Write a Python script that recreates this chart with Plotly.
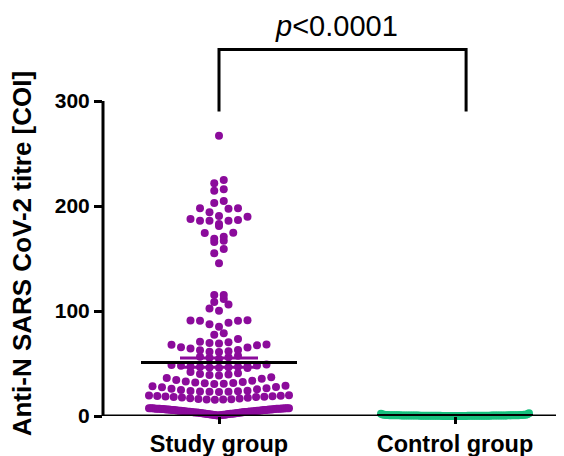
import plotly.graph_objects as go

# ---------------- data ----------------
categories = ["Study group", "Control group"]

study_values = [
    267, 224.8, 221.6, 215.9, 214.6, 204.8, 202.9, 197.8, 197.8, 197.5, 194,
    190.5, 189.8, 187.6, 186.7, 186, 186, 186, 182.9, 181, 174.6, 174.4,
    170.8, 168.9, 167, 165.7, 159, 155, 145.4,
    115.2, 115.2, 111.4, 108.6, 106.3, 102.5, 100.3,
    91.1, 90.9, 90.8, 90.6, 88.9, 87.3, 85.0,
    78.7, 77.4, 73.3, 70.8, 70.2, 69.5, 69.0,
    68.2, 67.8, 67.3, 65.4, 65.2, 64.4, 62.9, 62.7, 61.6, 61.2, 61.0,
    57.5, 56.5, 56.0, 55.5, 54.5,
    49.0, 48.6, 48.2, 47.9, 47.5, 47.1, 46.8, 46.6, 46.4, 46.1, 45.9, 45.7,
    42.0, 40.8, 40.0, 39.5, 39.0, 38.5,
    37.0, 36.2, 35.4, 34.3, 33.5, 32.8, 32.4, 31.9, 31.5, 31.1, 30.8, 30.5,
    28.9, 28.3, 27.6, 27.3, 26.4, 25.9, 25.4, 24.8, 24.1, 23.9, 23.5, 23.3,
    23.1, 23.0, 22.9,
    19.8, 19.5, 19.2, 19.0, 18.8, 18.6, 18.4, 18.2, 18.0, 17.6, 17.3, 17.0,
    16.6, 16.3, 16.0, 15.8, 15.6, 15.4,
    0.4, 0.6, 0.7, 0.9, 1.0, 1.2, 1.3, 1.3, 1.5, 1.7, 1.8, 1.9, 2.1, 2.2,
    2.2, 2.4, 2.6, 2.7, 2.8, 2.9, 3.0, 3.2, 3.3, 3.3, 3.5, 3.6, 3.7, 3.9,
    4.0, 4.1, 4.1, 4.3, 4.4, 4.5, 4.6, 4.8, 4.9, 5.0, 5.0, 5.1, 5.3, 5.4,
    5.5, 5.6, 5.6, 5.8, 5.9, 6.0, 6.1, 6.2, 6.3, 6.3, 6.4, 6.5, 6.6, 6.7,
    6.8, 6.8, 6.9, 7.0, 7.1, 7.1, 7.2, 7.3, 7.3, 7.4, 7.4, 7.5, 7.5, 3.4,
    2.5, 4.7, 5.2, 6.9, 1.6, 3.8, 4.2, 5.7, 6.6, 7.0,
]

control_values = [
    0.1, 0.3, 0.2, 0.6, 0.4, 0.1, 0.9, 0.5, 0.7, 0.3, 0.1, 0.2, 1.1, 0.4,
    0.6, 0.1, 0.3, 0.5, 0.8, 0.2, 0.4, 0.1, 0.7, 1.0, 0.3, 0.2, 0.5, 0.4,
    0.1, 0.6, 1.3, 0.2, 0.3, 0.4, 0.1, 0.5, 0.8, 0.1, 0.3, 0.7, 0.2, 0.4,
    1.6, 0.3, 0.1, 0.5, 0.6, 0.2, 0.4, 0.9, 0.3, 0.1, 0.2, 0.5, 2.2, 0.4,
    0.1, 0.7, 0.3, 0.6, 0.2, 1.2, 0.4, 0.1, 0.3, 0.5, 0.2, 2.6, 0.4, 0.8,
    0.3, 0.1, 0.6, 0.2, 0.4, 1.0, 0.3, 0.5, 0.1, 0.2, 0.7, 0.4, 0.3, 1.4,
    0.2, 0.1, 0.5, 0.3,
]

y_tick_values = [0, 100, 200, 300]
p_text = "<i>p</i>&lt;0.0001"
y_title = "Anti-N SARS CoV-2 titre [COI]"

# ---------------- style ----------------
PURPLE = "#8B0B9B"
GREEN = "#17C07E"
FONT = "Arial, Liberation Sans, sans-serif"

PAGE_OFFSET = 8            # default body margin of the html page
W, H = 564 - PAGE_OFFSET, 456 - PAGE_OFFSET
ML, MR, MT, MB = 103 - PAGE_OFFSET, 4, 10 - PAGE_OFFSET, 40
PX_PER_X = 236.0           # pixels between the two category centres
PX_PER_Y = 1.05            # pixels per titre unit
x_lo = -116 / PX_PER_X
x_hi = x_lo + (W - ML - MR) / PX_PER_X
y_hi = (H - MT - MB) / PX_PER_Y


def swarm(values, center, row_h, step, maxhalf):
    """Prism-like scatter: values binned into rows, spread horizontally."""
    rows = {}
    for v in sorted(values):
        rows.setdefault(int(v // row_h), []).append(v)
    xs, ys = [], []
    for key in sorted(rows):
        row = rows[key]
        n = len(row)
        s = step if n <= 1 else min(step, 2 * maxhalf / (n - 1))
        slots = sorted(range(n), key=lambda k: (abs(k - (n - 1) / 2), k))
        for v, k in zip(row, slots):
            xs.append(center + (k - (n - 1) / 2) * s)
            ys.append(v)
    return xs, ys


def mean_sem(vals):
    n = len(vals)
    m = sum(vals) / n
    sd = (sum((v - m) ** 2 for v in vals) / (n - 1)) ** 0.5
    return m, sd / n ** 0.5


row_h = 8 / PX_PER_Y
step = 9.5 / PX_PER_X
sx, sy = swarm(study_values, 0, row_h, step, 70 / PX_PER_X)
cx, cy = swarm(control_values, 1, row_h, step, 74 / PX_PER_X)

fig = go.Figure()
fig.add_trace(go.Scatter(x=sx, y=sy, mode="markers", cliponaxis=False,
                         marker=dict(size=8, color=PURPLE, line=dict(width=0)),
                         showlegend=False, hoverinfo="y"))
fig.add_trace(go.Scatter(x=cx, y=cy, mode="markers", cliponaxis=False,
                         marker=dict(size=8, color=GREEN, line=dict(width=0)),
                         showlegend=False, hoverinfo="y"))

mean_half = 78 / PX_PER_X
cap_half = 39 / PX_PER_X
for idx, (vals, col) in enumerate([(study_values, PURPLE), (control_values, GREEN)]):
    m, se = mean_sem(vals)
    fig.add_trace(go.Scatter(
        x=[idx - cap_half, idx + cap_half, None, idx, idx, None, idx - cap_half, idx + cap_half],
        y=[m + se, m + se, None, m + se, m - se, None, m - se, m - se],
        mode="lines", line=dict(color=col, width=3), showlegend=False,
        hoverinfo="skip", cliponaxis=False))
    fig.add_trace(go.Scatter(x=[idx - mean_half, idx + mean_half], y=[m, m],
                             mode="lines", line=dict(color="black", width=3),
                             showlegend=False, hoverinfo="skip", cliponaxis=False))

# axis spines: y only up to 300, x centred on y = 0
fig.add_shape(type="line", xref="paper", x0=0, x1=0, yref="y",
              y0=0, y1=y_tick_values[-1], line=dict(color="black", width=3))
fig.add_shape(type="line", xref="paper", x0=0, x1=1, yref="y",
              y0=0, y1=0, line=dict(color="black", width=3))

# significance bracket
br_left, br_right = 0, 1.047
br_low, br_top = 290, 349
fig.add_shape(type="path", xref="x", yref="y",
              path=f"M {br_left} {br_low} L {br_left} {br_top} L {br_right} {br_top} L {br_right} {br_low}",
              line=dict(color="black", width=3))
fig.add_annotation(x=0.498, y=371, xref="x", yref="y", text=p_text,
                   showarrow=False, xanchor="center", yanchor="middle",
                   font=dict(family=FONT, size=29, color="black"))

# y-axis title centred on the 0-300 spine
fig.add_annotation(xref="paper", x=0, xshift=-81, yref="y", y=154,
                   xanchor="center", yanchor="middle",
                   text=y_title, textangle=-90, showarrow=False,
                   font=dict(family=FONT, size=26, color="black", weight="bold"))

fig.update_layout(
    width=W, height=H,
    margin=dict(l=ML, r=MR, t=MT, b=MB, autoexpand=False),
    paper_bgcolor="white", plot_bgcolor="white",
    font=dict(family=FONT, color="black"),
    showlegend=False,
)
fig.update_xaxes(range=[x_lo, x_hi], tickvals=[0, 1], ticktext=categories,
                 showline=False,
                 ticks="outside", ticklen=7, tickwidth=3, tickcolor="black",
                 tickfont=dict(family=FONT, size=23.5, color="black", weight="bold"),
                 showgrid=False, zeroline=False, fixedrange=True, automargin=False)
fig.update_yaxes(range=[0, y_hi], tickvals=y_tick_values,
                 showline=False, ticks="outside", ticklen=8, tickwidth=3,
                 tickcolor="black",
                 tickfont=dict(family=FONT, size=21, color="black", weight="bold"),
                 showgrid=False, zeroline=False, fixedrange=True, automargin=False)

fig.write_html("out.html")
